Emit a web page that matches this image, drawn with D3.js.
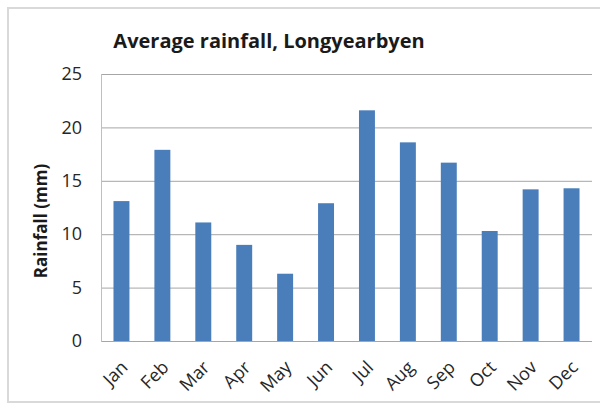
<!DOCTYPE html>
<html><head><meta charset="utf-8">
<script src="https://cdn.jsdelivr.net/npm/d3@7"></script>
<style>body{margin:0;background:#fff;}svg{display:block;}</style>
</head><body>
<script>
const months = ["Jan","Feb","Mar","Apr","May","Jun","Jul","Aug","Sep","Oct","Nov","Dec"];
const rainfall = [13.1, 17.9, 11.1, 9.0, 6.3, 12.9, 21.6, 18.6, 16.7, 10.3, 14.2, 14.3];
const yTicks = [0, 5, 10, 15, 20, 25];
const title = "Average rainfall, Longyearbyen";
const yLabel = "Rainfall (mm)";

const W = 600, H = 403;
const svg = d3.select("body").append("svg").attr("width", W).attr("height", H);
const font = "'Open Sans', sans-serif";

// frame
svg.append("rect").attr("x", 8).attr("y", 8).attr("width", 600).attr("height", 394)
  .attr("fill", "#fff").attr("stroke", "#d9d9d9").attr("stroke-width", 2);

const m = {left: 101, right: 592, top: 74, bottom: 341};
const x = d3.scaleBand().domain(months).range([m.left, m.right]).paddingInner(0.61).paddingOuter(0.305);
const y = d3.scaleLinear().domain([0, 25]).range([m.bottom, m.top]);

// gridlines
svg.append("g").selectAll("line").data(yTicks).join("line")
  .attr("x1", m.left).attr("x2", m.right)
  .attr("y1", d => y(d) + 0.5).attr("y2", d => y(d) + 0.5)
  .attr("stroke", "#a6a6a6").attr("stroke-width", 1);

// y axis line
svg.append("line").attr("x1", m.left + 0.5).attr("x2", m.left + 0.5)
  .attr("y1", m.top).attr("y2", m.bottom + 1).attr("stroke", "#bfbfbf");

// bars
svg.append("g").selectAll("rect").data(rainfall).join("rect")
  .attr("x", (d, i) => x(months[i]))
  .attr("width", x.bandwidth())
  .attr("y", d => y(d))
  .attr("height", d => y(0) - y(d))
  .attr("fill", "#4a7ebb");

// y axis
const yAxis = d3.axisLeft(y).tickValues(yTicks).tickSize(0).tickPadding(19);
const gy = svg.append("g").attr("transform", `translate(${m.left},0)`).call(yAxis);
gy.select(".domain").remove();
gy.selectAll("text").attr("font-family", font).attr("font-size", 18).attr("fill", "#262626");

// x axis
const xAxis = d3.axisBottom(x).tickSize(0).tickPadding(0);
const gx = svg.append("g").attr("transform", `translate(0,${m.bottom})`).call(xAxis);
gx.select(".domain").remove();
gx.selectAll("text")
  .attr("font-family", font).attr("font-size", 18).attr("fill", "#262626")
  .attr("text-anchor", "end").attr("dy", "0.35em")
  .attr("transform", "translate(3,23) rotate(-45)")
  .attr("x", 0).attr("y", 0);

// title
svg.append("text").attr("x", 269).attr("y", 48).attr("text-anchor", "middle")
  .attr("font-family", font).attr("font-weight", "bold").attr("font-size", 20)
  .attr("fill", "#1a1a1a").text(title);

// y label
svg.append("text").attr("transform", "translate(47,221) rotate(-90)")
  .attr("text-anchor", "middle")
  .attr("font-family", font).attr("font-weight", "bold").attr("font-size", 17)
  .attr("fill", "#1a1a1a").text(yLabel);
</script>
</body></html>
